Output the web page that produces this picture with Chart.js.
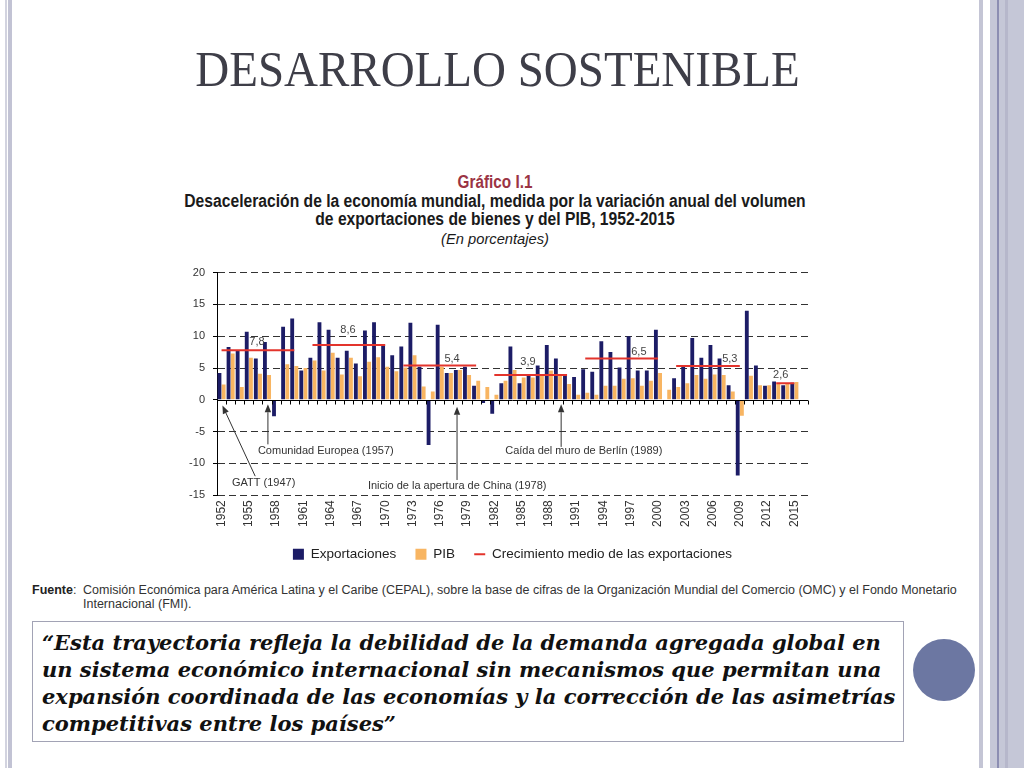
<!DOCTYPE html>
<html><head><meta charset="utf-8">
<script src="https://cdn.jsdelivr.net/npm/chart.js@4.4.1/dist/chart.umd.min.js"></script>
<style>
html,body{margin:0;padding:0;background:#fff;}
body{width:1024px;height:768px;position:relative;overflow:hidden;font-family:'Liberation Sans',Arial,sans-serif;}
.abs{position:absolute;}
#slideTitle{left:0;top:44px;width:995px;text-align:center;font-family:'Liberation Serif','Times New Roman',serif;font-size:50px;line-height:50px;color:#3e3e48;transform:scaleX(0.94);transform-origin:497.5px 50%;white-space:nowrap;}
.ct{left:0;width:990px;text-align:center;white-space:nowrap;color:#1a1a1a;transform-origin:495px 50%;font-family:'Liberation Sans',Arial,sans-serif;}
#g1{top:172px;font-size:18px;line-height:20px;font-weight:bold;color:#9b3444;transform:scaleX(0.85);}
#g2{top:191px;font-size:18px;line-height:20px;font-weight:bold;transform:scaleX(0.87);}
#g3{top:209px;font-size:18px;line-height:20px;font-weight:bold;transform:scaleX(0.87);}
#g4{top:231px;font-size:15px;line-height:16px;font-style:italic;transform:scaleX(0.98);}
#chartBox{left:175px;top:258px;width:675px;height:313px;}
#fuente{left:32px;top:583px;font-size:12.5px;line-height:14px;color:#333;white-space:nowrap;}
.lab{display:inline-block;width:51px;}
#fuente b{color:#222;}
#quoteBox{left:32px;top:621px;width:870px;height:119px;border:1.5px solid #a2a3b5;}
#quote{left:42px;top:629px;font-family:'DejaVu Serif',serif;font-weight:bold;font-style:italic;font-size:21px;line-height:27px;color:#111;white-space:pre;}
#circle{left:913px;top:639px;width:62px;height:62px;border-radius:50%;background:#6c77a2;}
</style></head><body>
<div class="abs" style="left:5px;top:0;width:2px;height:768px;background:#d2d3df"></div>
<div class="abs" style="left:8px;top:0;width:4px;height:768px;background:#c2c3d4"></div>
<div class="abs" style="left:979px;top:0;width:4px;height:768px;background:#c4c5d5"></div>
<div class="abs" style="left:990px;top:0;width:34px;height:768px;background:#c5c7d7"></div>
<div class="abs" style="left:997px;top:0;width:2px;height:768px;background:#8c8eb2"></div>
<div class="abs" style="left:1005px;top:0;width:3px;height:768px;background:#b6b7cb"></div>

<div id="slideTitle" class="abs">DESARROLLO SOSTENIBLE</div>
<div id="g1" class="abs ct">Gráfico I.1</div>
<div id="g2" class="abs ct">Desaceleración de la economía mundial, medida por la variación anual del volumen</div>
<div id="g3" class="abs ct">de exportaciones de bienes y del PIB, 1952-2015</div>
<div id="g4" class="abs ct">(En porcentajes)</div>
<div id="chartBox" class="abs"><canvas id="c"></canvas></div>
<div id="fuente" class="abs"><span class="lab"><b>Fuente</b>:</span>Comisión Económica para América Latina y el Caribe (CEPAL), sobre la base de cifras de la Organización Mundial del Comercio (OMC) y el Fondo Monetario<br><span class="lab"></span>Internacional (FMI).</div>
<div id="quoteBox" class="abs"></div>
<div id="quote" class="abs">“Esta trayectoria refleja la debilidad de la demanda agregada global en
un sistema económico internacional sin mecanismos que permitan una
expansión coordinada de las economías y la corrección de las asimetrías
competitivas entre los países”</div>
<div id="circle" class="abs"></div>

<script>
const years = ['1952','1953','1954','1955','1956','1957','1958','1959','1960','1961',
  '1962','1963','1964','1965','1966','1967','1968','1969','1970','1971',
  '1972','1973','1974','1975','1976','1977','1978','1979','1980','1981',
  '1982','1983','1984','1985','1986','1987','1988','1989','1990','1991',
  '1992','1993','1994','1995','1996','1997','1998','1999','2000','2001',
  '2002','2003','2004','2005','2006','2007','2008','2009','2010','2011',
  '2012','2013','2014','2015'];
const exportaciones = [4.2,8.3,7.7,10.7,6.5,9.1,-2.6,11.5,12.8,4.6,
  6.6,12.2,11.0,6.6,7.7,5.7,10.9,12.2,8.6,7.0,
  8.4,12.1,5.2,-7.1,11.8,4.2,4.7,5.2,2.2,-0.5,
  -2.2,2.6,8.4,2.6,3.8,5.4,8.6,6.5,3.8,3.6,
  4.8,4.4,9.2,7.5,5.1,10.0,4.6,4.6,11.0,-0.2,
  3.4,5.2,9.7,6.6,8.6,6.5,2.3,-11.9,14.0,5.4,
  2.2,2.9,2.3,2.7];
const pib = [2.4,7.3,2.0,6.6,4.1,3.9,0.0,5.6,5.3,5.0,
  6.2,4.6,7.4,4.0,6.6,3.7,6.0,6.7,5.2,4.5,
  5.1,7.0,2.1,1.3,5.2,4.2,4.7,3.9,3.0,2.0,
  0.8,3.0,4.7,3.5,3.5,3.8,4.6,3.8,2.5,0.8,
  1.1,0.8,2.2,2.2,3.3,3.4,2.2,3.0,4.2,1.6,
  2.0,2.6,3.9,3.3,4.0,3.9,1.3,-2.5,3.8,2.3,
  2.3,2.5,2.6,2.8];
const tickYears = ['1952','1955','1958','1961','1964','1967','1970','1973','1976','1979','1982',
  '1985','1988','1991','1994','1997','2000','2003','2006','2009','2012','2015'];
const avgStart = ['1952','1962','1972','1982','1992','2002','2013'];
const avgEnd   = ['1960','1970','1980','1990','2000','2009','2015'];
const avgValue = [7.8,8.6,5.4,3.9,6.5,5.3,2.6];
const avgText  = ['7,8','8,6','5,4','3,9','6,5','5,3','2,6'];
const eventText = ['GATT (1947)','Comunidad Europea (1957)','Inicio de la apertura de China (1978)','Caída del muro de Berlín (1989)'];
const seriesNames = ['Exportaciones','PIB','Crecimiento medio de las exportaciones'];

// the source chart leaves one empty slot after the last year
const axisLabels = years.concat(['']);

const avgSeries = years.map(yr => {
  const k = avgStart.findIndex((s, j) => +yr >= +s && +yr <= +avgEnd[j]);
  return k < 0 ? null : avgValue[k];
});

// layout of labels/annotations (in scale units: category index, value)
const avgLabelLayout = [{i:3.9,dy:8},{i:13.9,dy:15},{i:25.35,dy:7},{i:33.7,dy:13},{i:45.9,dy:7},{i:55.9,dy:7},{i:61.5,dy:8}];
const eventLayout = [
  {tx:1.15, tv:-13.1, from:[3.7,-12.0], to:[0.1,-0.9]},
  {tx:4.0, tv:-8.0, from:[5.1,-7.0], to:[5.1,-0.7]},
  {tx:16.1, tv:-13.6, from:[25.9,-12.6], to:[25.9,-1.1]},
  {tx:31.2, tv:-8.1, from:[37.35,-7.4], to:[37.35,-0.7]}
];

const NAVY = '#1c1c66', ORANGE = '#f8b562', RED = '#e3342c';
Chart.defaults.font.family = "'Liberation Sans', Arial, sans-serif";
Chart.defaults.color = '#333';

const decorations = {
  id: 'decorations',
  afterDatasetsDraw(chart) {
    const {ctx, chartArea: a, scales: {x, y}} = chart;
    ctx.save();
    const y0 = Math.round(y.getPixelForValue(0)) + 0.5;
    ctx.strokeStyle = '#000'; ctx.lineWidth = 1;
    ctx.beginPath();
    ctx.moveTo(a.left, y0); ctx.lineTo(a.right, y0);
    for (let i = 0; i <= axisLabels.length; i++) {
      const xp = Math.round(x.getPixelForValue(i - 0.5)) + 0.5;
      ctx.moveTo(xp, y0); ctx.lineTo(xp, y0 + 4);
    }
    ctx.stroke();
    ctx.font = "11px 'Liberation Sans', Arial, sans-serif";
    ctx.fillStyle = '#444'; ctx.textAlign = 'center'; ctx.textBaseline = 'middle';
    avgText.forEach((t, k) => {
      const L = avgLabelLayout[k];
      ctx.fillText(t, x.getPixelForValue(L.i), y.getPixelForValue(avgValue[k]) - L.dy);
    });
    ctx.textAlign = 'left'; ctx.fillStyle = '#333';
    ctx.strokeStyle = '#333'; ctx.lineWidth = 1;
    eventText.forEach((t, k) => {
      const E = eventLayout[k];
      ctx.fillText(t, x.getPixelForValue(E.tx), y.getPixelForValue(E.tv));
      const x1 = x.getPixelForValue(E.from[0]), y1 = y.getPixelForValue(E.from[1]);
      const x2 = x.getPixelForValue(E.to[0]), y2 = y.getPixelForValue(E.to[1]);
      const ang = Math.atan2(y2 - y1, x2 - x1), hl = 8, hw = 3.2;
      const bx = x2 - hl * Math.cos(ang), by = y2 - hl * Math.sin(ang);
      ctx.beginPath(); ctx.moveTo(x1, y1); ctx.lineTo(bx, by); ctx.stroke();
      ctx.beginPath();
      ctx.moveTo(x2, y2);
      ctx.lineTo(bx + hw * Math.sin(ang), by - hw * Math.cos(ang));
      ctx.lineTo(bx - hw * Math.sin(ang), by + hw * Math.cos(ang));
      ctx.closePath(); ctx.fill();
    });
    ctx.restore();
  }
};

new Chart(document.getElementById('c'), {
  type: 'bar',
  data: {
    labels: axisLabels,
    datasets: [
      {label: seriesNames[0], data: exportaciones, backgroundColor: NAVY, borderWidth: 0, barPercentage: 0.92, categoryPercentage: 0.92, order: 2},
      {label: seriesNames[1], data: pib, backgroundColor: ORANGE, borderWidth: 0, barPercentage: 0.92, categoryPercentage: 0.92, order: 2},
      {type: 'line', label: seriesNames[2], data: avgSeries, borderColor: RED, backgroundColor: RED, borderWidth: 2, pointRadius: 0, spanGaps: false, order: 0}
    ]
  },
  options: {
    responsive: true, maintainAspectRatio: false, animation: false,
    layout: {padding: {top: 10, right: 42, left: 0, bottom: 0}},
    scales: {
      x: {
        grid: {display: false, drawTicks: false},
        border: {display: false},
        ticks: {autoSkip: false, minRotation: 90, maxRotation: 90, padding: 5, color: '#333', font: {size: 12},
          callback(v, i) { const lab = axisLabels[i]; return tickYears.includes(lab) ? lab : ''; }},
        afterFit(s) { s.height = 33; }
      },
      y: {
        min: -15, max: 20,
        ticks: {stepSize: 5, padding: 8, color: '#333', font: {size: 11}},
        grid: {color: c => c.tick && c.tick.value === 0 ? 'rgba(0,0,0,0)' : '#333', lineWidth: 1, drawTicks: true, tickLength: 4, tickColor: '#000'},
        border: {display: true, color: '#000', width: 1, dash: [7, 4]},
        afterFit(s) { s.width = 42; }
      }
    },
    plugins: {
      legend: {
        position: 'bottom', fullSize: false,
        labels: {
          usePointStyle: true, pointStyleWidth: 11, boxHeight: 11, padding: 19.25, color: '#222', font: {size: 13.5},
          sort: (a, b) => a.datasetIndex - b.datasetIndex,
          generateLabels(chart) {
            const items = Chart.defaults.plugins.legend.labels.generateLabels(chart);
            items.forEach(it => {
              if (it.datasetIndex === 2) { it.pointStyle = 'line'; it.lineWidth = 2; it.strokeStyle = RED; }
              else { it.pointStyle = 'rect'; it.lineWidth = 0; }
            });
            return items;
          }
        }
      },
      tooltip: {enabled: false}
    }
  },
  plugins: [decorations]
});
</script>
</body></html>
